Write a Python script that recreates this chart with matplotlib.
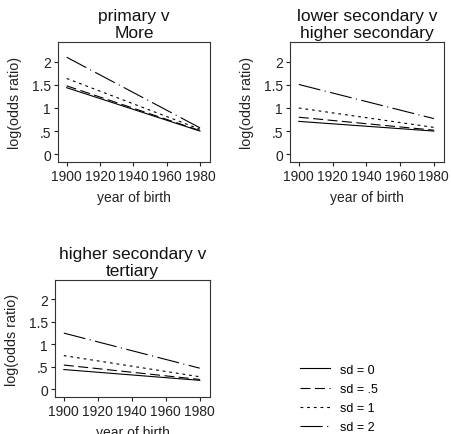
import matplotlib
matplotlib.use("Agg")
import matplotlib.pyplot as plt
from matplotlib.lines import Line2D

plt.rcParams["font.family"] = ["Liberation Sans", "DejaVu Sans"]

years = [1900, 1980]
sd_labels = ["sd = 0", "sd = .5", "sd = 1", "sd = 2"]
titles = ["primary v\nMore", "lower secondary v\nhigher secondary", "higher secondary v\ntertiary"]

# log odds ratio at 1900 and 1980 per panel, per sd
panel1 = [[1.44, 0.50], [1.48, 0.51], [1.64, 0.54], [2.10, 0.57]]
panel2 = [[0.71, 0.50], [0.80, 0.52], [1.00, 0.58], [1.51, 0.77]]
panel3 = [[0.44, 0.20], [0.54, 0.22], [0.75, 0.28], [1.25, 0.47]]
panels = [panel1, panel2, panel3]

yticks = [0, 0.5, 1, 1.5, 2]
ytick_labels = ["0", ".5", "1", "1.5", "2"]
xticks = [1900, 1920, 1940, 1960, 1980]

styles = [
    dict(linestyle="-"),
    dict(linestyle=(0, (9, 4))),
    dict(linestyle=(0, (2.5, 3.5))),
    dict(linestyle=(0, (20, 4, 1, 4))),
]
LW = 0.8

W, H = 451, 435
fig = plt.figure(figsize=(W / 100, H / 100), dpi=100)

# pixel boxes: left, top, right, bottom
boxes = [(58, 43, 210, 163), (290, 43, 444, 163), (55, 281, 210, 398)]

for box, data, title in zip(boxes, panels, titles):
    l, t, r, b = box
    ax = fig.add_axes([l / W, 1 - b / H, (r - l) / W, (b - t) / H])
    for vals, st in zip(data, styles):
        ax.plot(years, vals, color="black", lw=LW, **st)
    ax.set_xlim(1894.8, 1986)
    ax.set_ylim(-0.17, 2.43)
    ax.set_xticks(xticks)
    ax.set_yticks(yticks)
    ax.set_yticklabels(ytick_labels)
    ax.tick_params(labelsize=10, length=3, width=0.8, pad=2, colors="#222222")
    for s in ax.spines.values():
        s.set_linewidth(0.8)
        s.set_color("#333333")
    ax.set_xlabel("year of birth", fontsize=10, labelpad=5, color="#222222")
    ax.set_ylabel("log(odds ratio)", fontsize=10.3, labelpad=7.5, color="#222222")
    ax.set_title(title, fontsize=12.5, linespacing=1.17, pad=3.5, color="#111111")

handles = [Line2D([0], [0], color="black", lw=LW, **st) for st in styles]
fig.legend(handles, sd_labels, loc="center left", bbox_to_anchor=(300 / W, 1 - 399.5 / H),
           frameon=False, fontsize=9, handlelength=2.4, handletextpad=0.8,
           labelspacing=0.57, borderpad=0, borderaxespad=0)

fig.savefig("out.png", dpi=100)
